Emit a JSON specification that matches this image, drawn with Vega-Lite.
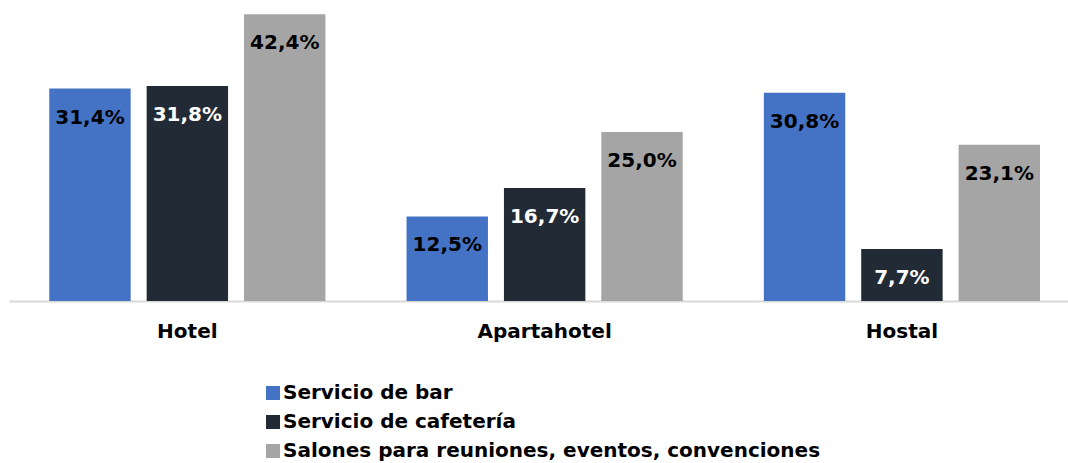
{
  "$schema": "https://vega.github.io/schema/vega-lite/v6.json",
  "width": 1059,
  "height": 301,
  "padding": {"left": 9, "top": 0, "right": 0, "bottom": 162},
  "autosize": {"type": "none"},
  "background": "white",
  "config": {
    "view": {"stroke": null},
    "font": "DejaVu Sans"
  },
  "data": {
    "values": [
      {"tipo": "Hotel", "servicio": "Servicio de bar", "valor": 31.4, "label": "31,4%"},
      {"tipo": "Hotel", "servicio": "Servicio de cafetería", "valor": 31.8, "label": "31,8%"},
      {"tipo": "Hotel", "servicio": "Salones para reuniones, eventos, convenciones", "valor": 42.4, "label": "42,4%"},
      {"tipo": "Apartahotel", "servicio": "Servicio de bar", "valor": 12.5, "label": "12,5%"},
      {"tipo": "Apartahotel", "servicio": "Servicio de cafetería", "valor": 16.7, "label": "16,7%"},
      {"tipo": "Apartahotel", "servicio": "Salones para reuniones, eventos, convenciones", "valor": 25.0, "label": "25,0%"},
      {"tipo": "Hostal", "servicio": "Servicio de bar", "valor": 30.8, "label": "30,8%"},
      {"tipo": "Hostal", "servicio": "Servicio de cafetería", "valor": 7.7, "label": "7,7%"},
      {"tipo": "Hostal", "servicio": "Salones para reuniones, eventos, convenciones", "valor": 23.1, "label": "23,1%"}
    ]
  },
  "encoding": {
    "x": {
      "field": "tipo", "type": "nominal", "sort": ["Hotel", "Apartahotel", "Hostal"],
      "scale": {"paddingInner": 0.227, "paddingOuter": 0.0955, "align": 0.59},
      "axis": {
        "title": null, "labelAngle": 0, "ticks": false, "domainColor": "#d9d9d9", "domainWidth": 2,
        "labelFontSize": 20, "labelFontWeight": "bold", "labelColor": "black", "labelPadding": 20, "labelFont": "DejaVu Sans"
      }
    },
    "xOffset": {
      "field": "servicio", "type": "nominal",
      "sort": ["Servicio de bar", "Servicio de cafetería", "Salones para reuniones, eventos, convenciones"],
      "scale": {"paddingInner": 0.164, "paddingOuter": 0}
    },
    "y": {
      "field": "valor", "type": "quantitative",
      "scale": {"domain": [0, 44.5], "nice": false},
      "axis": null
    }
  },
  "layer": [
    {
      "mark": {"type": "bar"},
      "encoding": {
        "color": {
          "field": "servicio", "type": "nominal",
          "sort": ["Servicio de bar", "Servicio de cafetería", "Salones para reuniones, eventos, convenciones"],
          "scale": {
            "domain": ["Servicio de bar", "Servicio de cafetería", "Salones para reuniones, eventos, convenciones"],
            "range": ["#4472C4", "#222A35", "#A5A5A5"]
          },
          "legend": {
            "title": null, "orient": "none", "direction": "vertical",
            "legendX": 254, "legendY": 383, "padding": 0,
            "symbolType": "square", "symbolSize": 196, "symbolStrokeWidth": 0, "symbolOpacity": 1,
            "labelFontSize": 20, "labelFontWeight": "bold", "labelColor": "black", "labelFont": "DejaVu Sans",
            "labelOffset": 0, "rowPadding": 9, "labelLimit": 700
          }
        }
      }
    },
    {
      "mark": {"type": "text", "baseline": "middle", "align": "center", "dy": 29, "fontSize": 20, "fontWeight": "bold", "font": "DejaVu Sans"},
      "encoding": {
        "text": {"field": "label"},
        "color": {
          "condition": {"test": "datum.servicio === 'Servicio de cafetería'", "value": "white"},
          "value": "black"
        }
      }
    }
  ]
}
